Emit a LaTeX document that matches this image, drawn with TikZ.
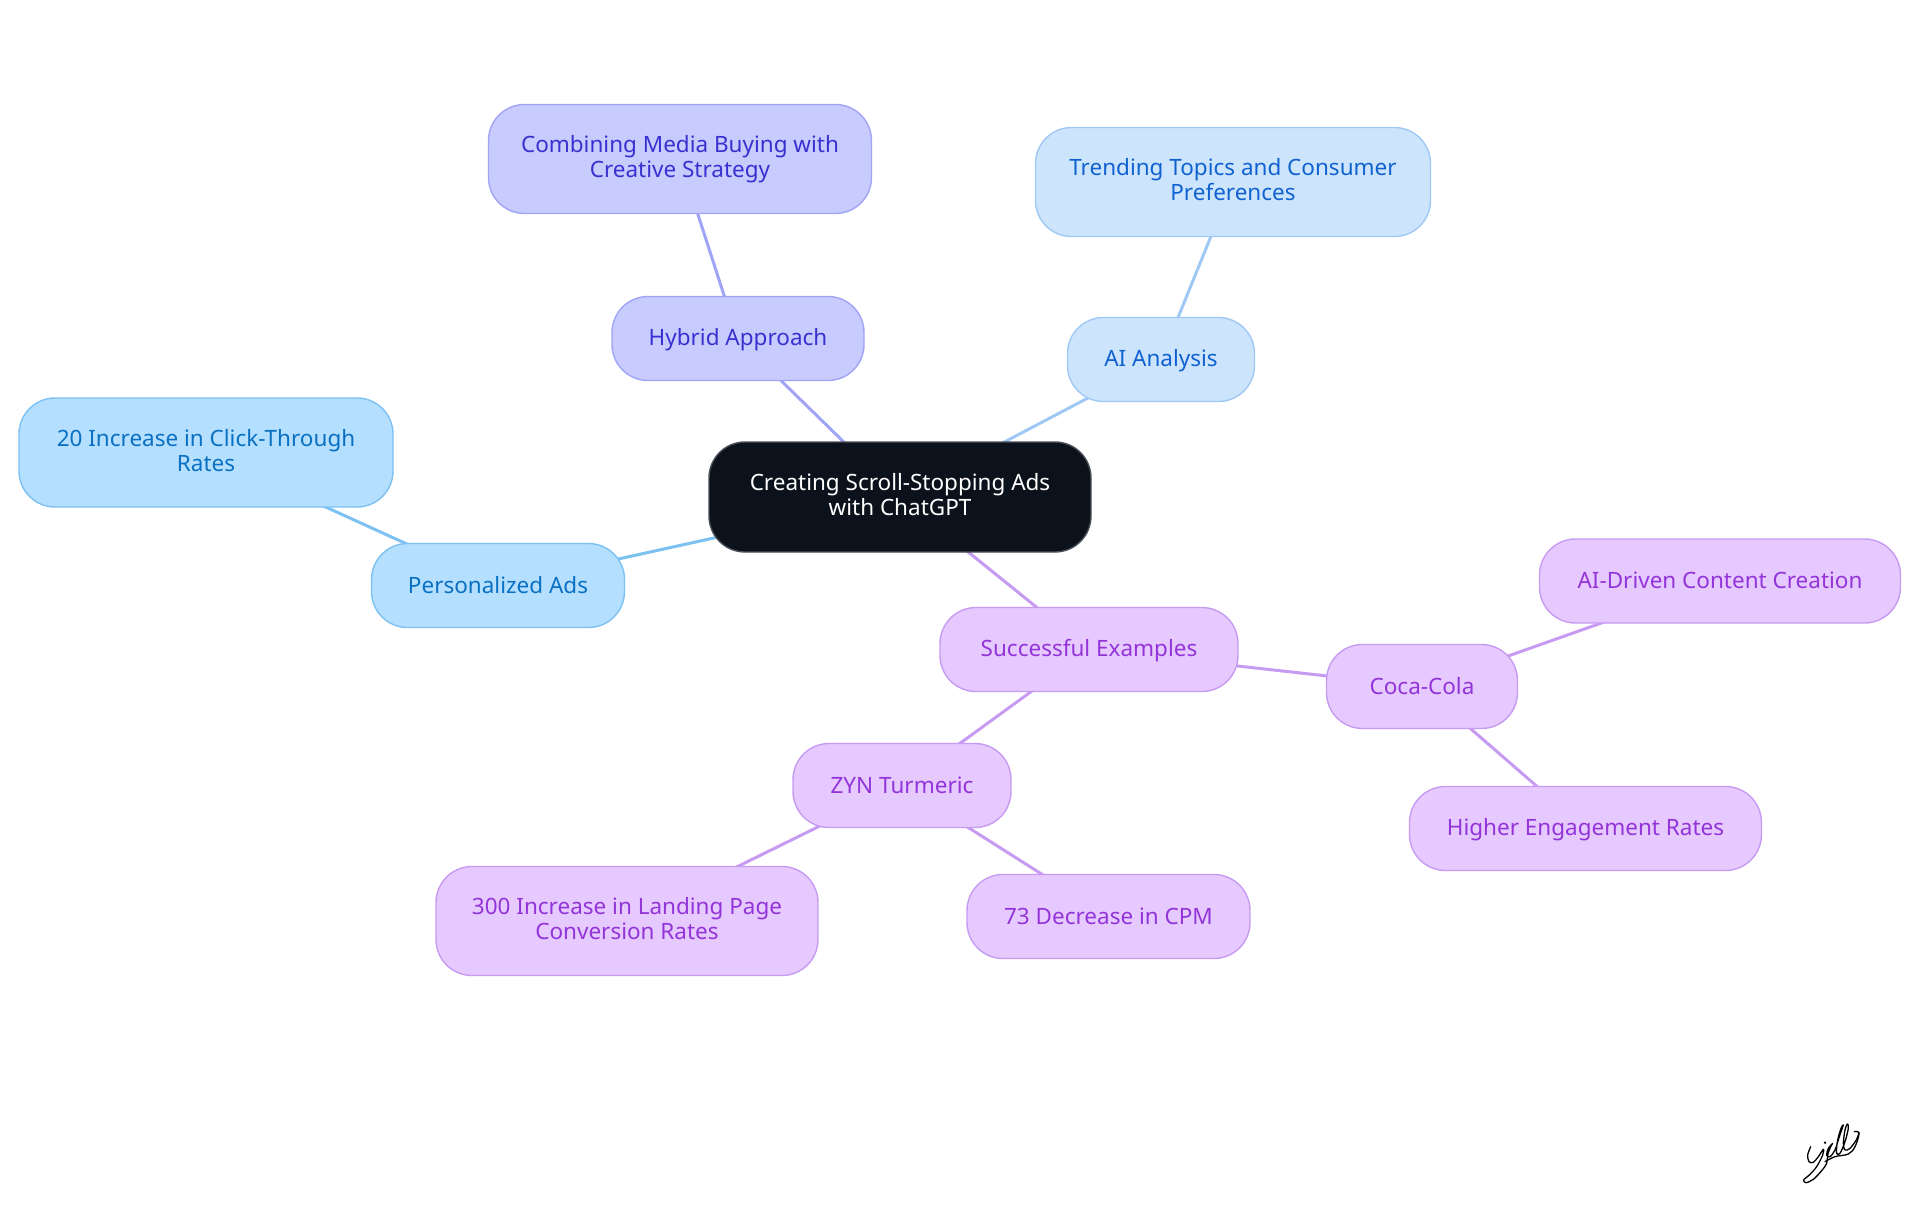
\documentclass[tikz,border=0pt]{standalone}
\usepackage{fontspec}
\setmainfont{Noto Sans}
\usetikzlibrary{backgrounds}

\definecolor{rootFill}{HTML}{0B121B}
\definecolor{rootLine}{HTML}{4A4F57}
\definecolor{violetFill}{HTML}{E6C9FE}
\definecolor{violetLine}{HTML}{C79BF2}
\definecolor{violetText}{HTML}{9334D9}
\definecolor{indigoFill}{HTML}{C8CBFE}
\definecolor{indigoLine}{HTML}{A0A4F6}
\definecolor{indigoText}{HTML}{3831D0}
\definecolor{skyFill}{HTML}{B4DFFF}
\definecolor{skyLine}{HTML}{7DC1F3}
\definecolor{skyText}{HTML}{0A70C2}
\definecolor{paleFill}{HTML}{CDE4FD}
\definecolor{paleLine}{HTML}{9FC9F4}
\definecolor{paleText}{HTML}{1062D0}

\tikzset{
    mapNode/.style={draw, rectangle, rounded corners=36pt, line width=1.4pt, inner sep=0pt,
        align=center, font=\fontsize{22.5}{25}\selectfont,
        execute at begin node={\rule{0pt}{20pt}}, execute at end node={\rule[-5pt]{0pt}{5pt}}},
    rootNode/.style={mapNode, fill=rootFill, draw=rootLine, text=white},
    violetNode/.style={mapNode, fill=violetFill, draw=violetLine, text=violetText},
    indigoNode/.style={mapNode, fill=indigoFill, draw=indigoLine, text=indigoText},
    skyNode/.style={mapNode, fill=skyFill, draw=skyLine, text=skyText},
    paleNode/.style={mapNode, fill=paleFill, draw=paleLine, text=paleText},
    mapEdge/.style={line width=3pt}
}

\begin{document}
\begin{tikzpicture}[x=1pt, y=-1pt]
        \useasboundingbox (0,0) rectangle (1920,1215);

        % centre
        \node[rootNode, minimum width=382pt, minimum height=110pt] (root) at (900,497)
            {Creating Scroll-Stopping Ads\\with ChatGPT};

        % upper branches
        \node[indigoNode, minimum width=252pt, minimum height=84pt] (hybrid) at (738,338.5) {Hybrid Approach};
        \node[indigoNode, minimum width=383pt, minimum height=109pt] (media) at (680,159) 
            {Combining Media Buying with\\Creative Strategy};
        \node[paleNode, minimum width=187pt, minimum height=84pt] (analysis) at (1161,359.5) {AI Analysis};
        \node[paleNode, minimum width=395pt, minimum height=109pt] (trending) at (1233,182)
            {Trending Topics and Consumer\\Preferences};

        % left branch
        \node[skyNode, minimum width=253pt, minimum height=84pt] (personal) at (498,585.5) {Personalized Ads};
        \node[skyNode, minimum width=374pt, minimum height=109pt] (click) at (206,452.5)
            {20 Increase in Click-Through\\Rates};

        % lower branch
        \node[violetNode, minimum width=298pt, minimum height=84pt] (examples) at (1089,649.5) {Successful Examples};
        \node[violetNode, minimum width=191pt, minimum height=84pt] (coca) at (1422,686.5) {Coca-Cola};
        \node[violetNode, minimum width=361pt, minimum height=84pt] (content) at (1720,581) {AI-Driven Content Creation};
        \node[violetNode, minimum width=352pt, minimum height=84pt] (engage) at (1585.5,828.5) {Higher Engagement Rates};
        \node[violetNode, minimum width=218pt, minimum height=84pt] (zyn) at (902,785.5) {ZYN Turmeric};
        \node[violetNode, minimum width=382pt, minimum height=109pt] (landing) at (627,921)
            {300 Increase in Landing Page\\Conversion Rates};
        \node[violetNode, minimum width=283pt, minimum height=84pt] (cpm) at (1108.5,916.5) {73 Decrease in CPM};

        % connectors sit behind the nodes
        \begin{pgfonlayer}{background}
            \foreach \a/\b/\c in {root/hybrid/indigoLine, hybrid/media/indigoLine,
                    root/analysis/paleLine, analysis/trending/paleLine,
                    root/personal/skyLine, personal/click/skyLine,
                    root/examples/violetLine, examples/coca/violetLine, coca/content/violetLine,
                    coca/engage/violetLine, examples/zyn/violetLine, zyn/landing/violetLine,
                    zyn/cpm/violetLine} {
                \draw[mapEdge, draw=\c] (\a.center) -- (\b.center);
            }
        \end{pgfonlayer}

        % signature
        \begin{scope}[shift={(1760,1100)}, x=0.3333pt, y=-0.3333pt]
            \draw[line width=1.3pt, black, line cap=round, line join=round]
                plot[smooth, tension=0.55] coordinates {
                    (152,140) (143,165) (147,185) (160,187) (175,170) (190,148)
                    (188,165) (170,200) (148,225) (131,240) (138,248) (160,238)
                    (185,212) (200,190) (203,165) (212,140) (218,130) (205,145)
                    (200,165) (210,170) (225,150) (238,110) (250,75) (243,85)
                    (232,125) (230,160) (240,160) (255,125) (265,85) (262,72)
                    (255,90) (250,130) (255,150) (270,145) (290,118) (297,97)
                };
            \draw[line width=1.3pt, black, line cap=round, line join=round]
                plot[smooth, tension=0.6] coordinates {
                    (195,185) (225,170) (265,162) (285,140) (297,100) (283,95)
                };
            \fill (195,128) circle (4);
        \end{scope}
\end{tikzpicture}
\end{document}
